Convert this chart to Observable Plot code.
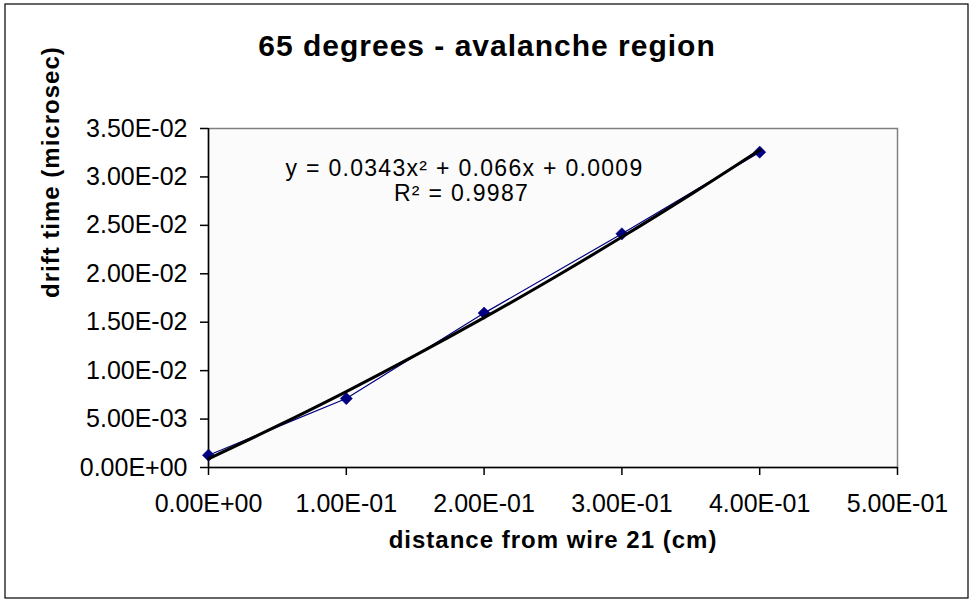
<!DOCTYPE html>
<html><head><meta charset="utf-8">
<script src="https://cdn.jsdelivr.net/npm/d3@7"></script>
<script src="https://cdn.jsdelivr.net/npm/@observablehq/plot@0.6"></script>
<style>body{margin:0;background:#fff;}</style>
</head><body><div id="chart"></div>
<script>
const distance = [0, 0.1, 0.2, 0.3, 0.4];
const driftTime = [0.00127, 0.00712, 0.01594, 0.02413, 0.03256];
const trendX = [0, 0.05, 0.1, 0.15, 0.2, 0.25, 0.3, 0.35, 0.4];
const trendY = [0.0009, 0.00429, 0.00784, 0.01157, 0.01547, 0.01954, 0.02379, 0.0282, 0.03279];
const xTicks = [0, 0.1, 0.2, 0.3, 0.4, 0.5];
const yTicks = [0, 0.005, 0.01, 0.015, 0.02, 0.025, 0.03, 0.035];
const titleText = "65 degrees - avalanche region";
const xLabel = "distance from wire 21 (cm)";
const yLabel = "drift time (microsec)";
const equationText = "y = 0.0343x² + 0.066x + 0.0009";
const r2Text = "R² = 0.9987";

const points = distance.map((d, i) => ({x: d, y: driftTime[i]}));
const trend = trendX.map((d, i) => ({x: d, y: trendY[i]}));

function fmt(v) {
  const [m, e] = v.toExponential(2).split("e");
  const sign = e[0];
  const digits = e.slice(1).padStart(2, "0");
  return m + "E" + sign + digits;
}

const W = 973, H = 603;
const mL = 208, mR = 76, mT = 128, mB = 136;

const chart = Plot.plot({
  width: W, height: H,
  marginLeft: mL, marginRight: mR, marginTop: mT, marginBottom: mB,
  style: {fontFamily: "'Liberation Sans', Arial, sans-serif", fontSize: "25px", background: "white", color: "black", overflow: "visible"},
  x: {domain: [0, 0.5]},
  y: {domain: [0, 0.035]},
  marks: [
    Plot.frame({fill: "#FBFBFB", stroke: "#808080", strokeWidth: 1.5}),
    Plot.ruleX([0], {stroke: "black", strokeWidth: 1.5}),
    Plot.ruleY([0], {stroke: "black", strokeWidth: 1.5}),
    Plot.axisX({ticks: xTicks, tickFormat: fmt, tickSize: 8, tickPadding: 19, label: null, stroke: "black", strokeWidth: 1.5}),
    Plot.axisY({ticks: yTicks, tickFormat: fmt, tickSize: 8, tickPadding: 13, label: null, stroke: "black", strokeWidth: 1.5}),
    Plot.line(points, {x: "x", y: "y", stroke: "#000080", strokeWidth: 1.2}),
    Plot.dot(points, {x: "x", y: "y", symbol: "diamond2", r: 5.5, fill: "#000080", stroke: "#000080", strokeWidth: 0.5}),
    Plot.line(trend, {x: "x", y: "y", stroke: "black", strokeWidth: 3, curve: "catmull-rom"}),
    Plot.text([titleText], {frameAnchor: "top", dx: W / 2 - (mL + (W - mL - mR) / 2), dy: -82, text: d => d, fontWeight: "bold", fontSize: 30, lineAnchor: "middle"}),
    Plot.text([equationText], {frameAnchor: "top-left", dx: 256, dy: 40, text: d => d, fontSize: 23, textAnchor: "middle", lineAnchor: "middle"}),
    Plot.text([r2Text], {frameAnchor: "top-left", dx: 253, dy: 65, text: d => d, fontSize: 23, textAnchor: "middle", lineAnchor: "middle"}),
    Plot.text([xLabel], {frameAnchor: "bottom", dy: 73, text: d => d, fontWeight: "bold", fontSize: 24, lineAnchor: "middle"}),
    Plot.text([yLabel], {frameAnchor: "left", dx: -157, rotate: -90, text: d => d, fontWeight: "bold", fontSize: 24, lineAnchor: "middle"})
  ]
});

const sel = d3.select(chart).selectAll("text");
sel.filter(function() { return this.textContent === titleText; }).style("letter-spacing", "1px");
sel.filter(function() { const t = this.textContent; return t === xLabel || t === yLabel; }).style("letter-spacing", "1px");
sel.filter(function() { const t = this.textContent; return t === equationText || t === r2Text; }).style("letter-spacing", "1.3px");

d3.select(chart).append("rect")
  .attr("x", 5).attr("y", 4).attr("width", 963).attr("height", 594)
  .attr("fill", "none").attr("stroke", "black").attr("stroke-width", 1.2);

document.getElementById("chart").appendChild(chart);
</script>
</body></html>
